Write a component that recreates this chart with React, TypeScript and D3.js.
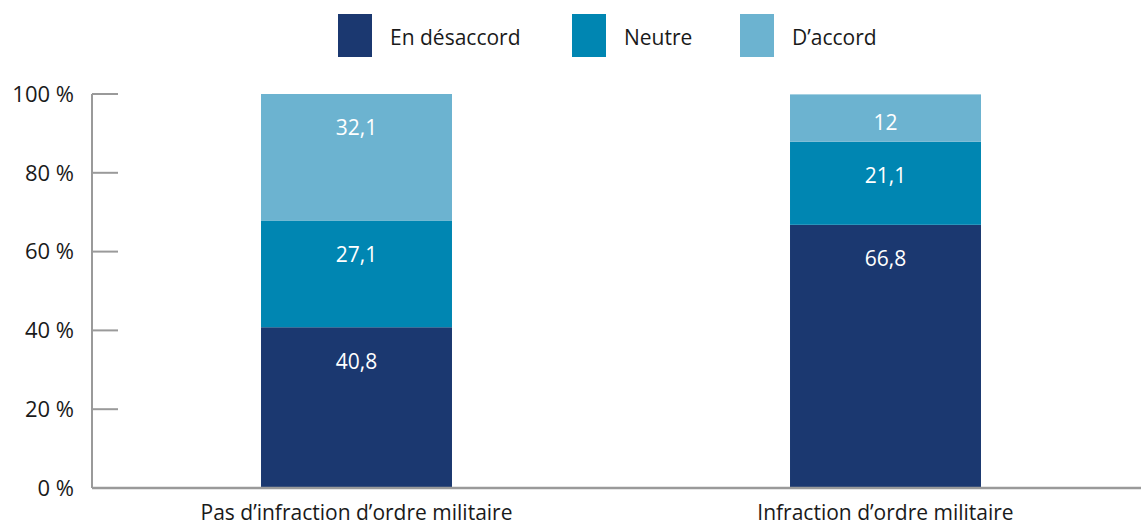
import * as d3 from 'd3';
import { useEffect, useRef } from 'react';

const categories = ["Pas d’infraction d’ordre militaire", 'Infraction d’ordre militaire'];
const seriesNames = ['En désaccord', 'Neutre', 'D’accord'];
const desaccord = [40.8, 66.8];
const neutre = [27.1, 21.1];
const accord = [32.1, 12];
const valueLabels = [
    ['40,8', '66,8'],
    ['27,1', '21,1'],
    ['32,1', '12'],
];
const yTicks = [0, 20, 40, 60, 80, 100];
const colors = ['#1b3870', '#0086b2', '#6cb3d0'];

const FONT = "'Open Sans', 'Noto Sans', sans-serif";

const App = () => {
    const svgRef = useRef<SVGSVGElement | null>(null);

    useEffect(() => {
        const width = 1141;
        const height = 525;

        const svg = d3.select(svgRef.current);
        svg.selectAll('*').remove();
        svg.attr('width', width).attr('height', height);

        const x = d3
            .scaleBand()
            .domain(categories)
            .range([92, 1150])
            .paddingInner(0.639)
            .paddingOuter(0.3195);

        const y = d3.scaleLinear().domain([0, 100]).range([488, 94]);

        const rows = categories.map((c, i) => ({
            cat: c,
            [seriesNames[0]]: desaccord[i],
            [seriesNames[1]]: neutre[i],
            [seriesNames[2]]: accord[i],
        }));
        const series = d3.stack<any>().keys(seriesNames)(rows);

        // barres
        series.forEach((s, si) => {
            svg.append('g')
                .attr('fill', colors[si])
                .selectAll('rect')
                .data(s)
                .enter()
                .append('rect')
                .attr('x', (d: any) => x(d.data.cat)!)
                .attr('y', (d) => y(d[1]))
                .attr('width', x.bandwidth())
                .attr('height', (d) => y(d[0]) - y(d[1]));

            // étiquettes de valeur
            svg.append('g')
                .selectAll('text')
                .data(s)
                .enter()
                .append('text')
                .attr('x', (d: any) => x(d.data.cat)! + x.bandwidth() / 2)
                .attr('y', (d) => Math.min(y(d[1]) + 34, (y(d[0]) + y(d[1])) / 2 + 5))
                .attr('dy', '0.35em')
                .attr('text-anchor', 'middle')
                .attr('fill', '#fff')
                .style('font-family', FONT)
                .style('font-size', '21px')
                .text((_d, i) => valueLabels[si][i]);
        });

        // axe Y
        const axisColor = '#9a9a9a';
        svg.append('line')
            .attr('x1', 92).attr('x2', 92)
            .attr('y1', y(100)).attr('y2', y(0))
            .attr('stroke', axisColor).attr('stroke-width', 2);
        svg.append('g')
            .selectAll('line')
            .data(yTicks)
            .enter()
            .append('line')
            .attr('x1', 92).attr('x2', 118)
            .attr('y1', (d) => y(d)).attr('y2', (d) => y(d))
            .attr('stroke', axisColor).attr('stroke-width', 2);
        svg.append('g')
            .selectAll('text')
            .data(yTicks)
            .enter()
            .append('text')
            .attr('x', 74)
            .attr('y', (d) => y(d))
            .attr('dy', '0.35em')
            .attr('text-anchor', 'end')
            .attr('fill', '#1a1a1a')
            .style('font-family', FONT)
            .style('font-size', '22px')
            .text((d) => `${d} %`);

        // axe X
        svg.append('line')
            .attr('x1', 92).attr('x2', width)
            .attr('y1', y(0)).attr('y2', y(0))
            .attr('stroke', axisColor).attr('stroke-width', 2.5);
        svg.append('g')
            .selectAll('text')
            .data(categories)
            .enter()
            .append('text')
            .attr('x', (d) => x(d)! + x.bandwidth() / 2)
            .attr('y', 513)
            .attr('dy', '0.35em')
            .attr('text-anchor', 'middle')
            .attr('fill', '#1a1a1a')
            .style('font-family', FONT)
            .style('font-size', '21px')
            .text((d) => d);

        // légende
        const legendX = [338, 572, 740];
        const legend = svg.append('g');
        seriesNames.forEach((name, i) => {
            const row = legend.append('g').attr('transform', `translate(${legendX[i]}, 14)`);
            row.append('rect').attr('width', 34).attr('height', 43).attr('fill', colors[i]);
            row.append('text')
                .attr('x', 52)
                .attr('y', 24)
                .attr('dy', '0.35em')
                .attr('fill', '#1a1a1a')
                .style('font-family', FONT)
                .style('font-size', '21px')
                .text(name);
        });
    }, []);

    return <svg ref={svgRef} style={{ display: 'block', position: 'absolute', left: 0, top: 0 }} />;
};

export default App;
